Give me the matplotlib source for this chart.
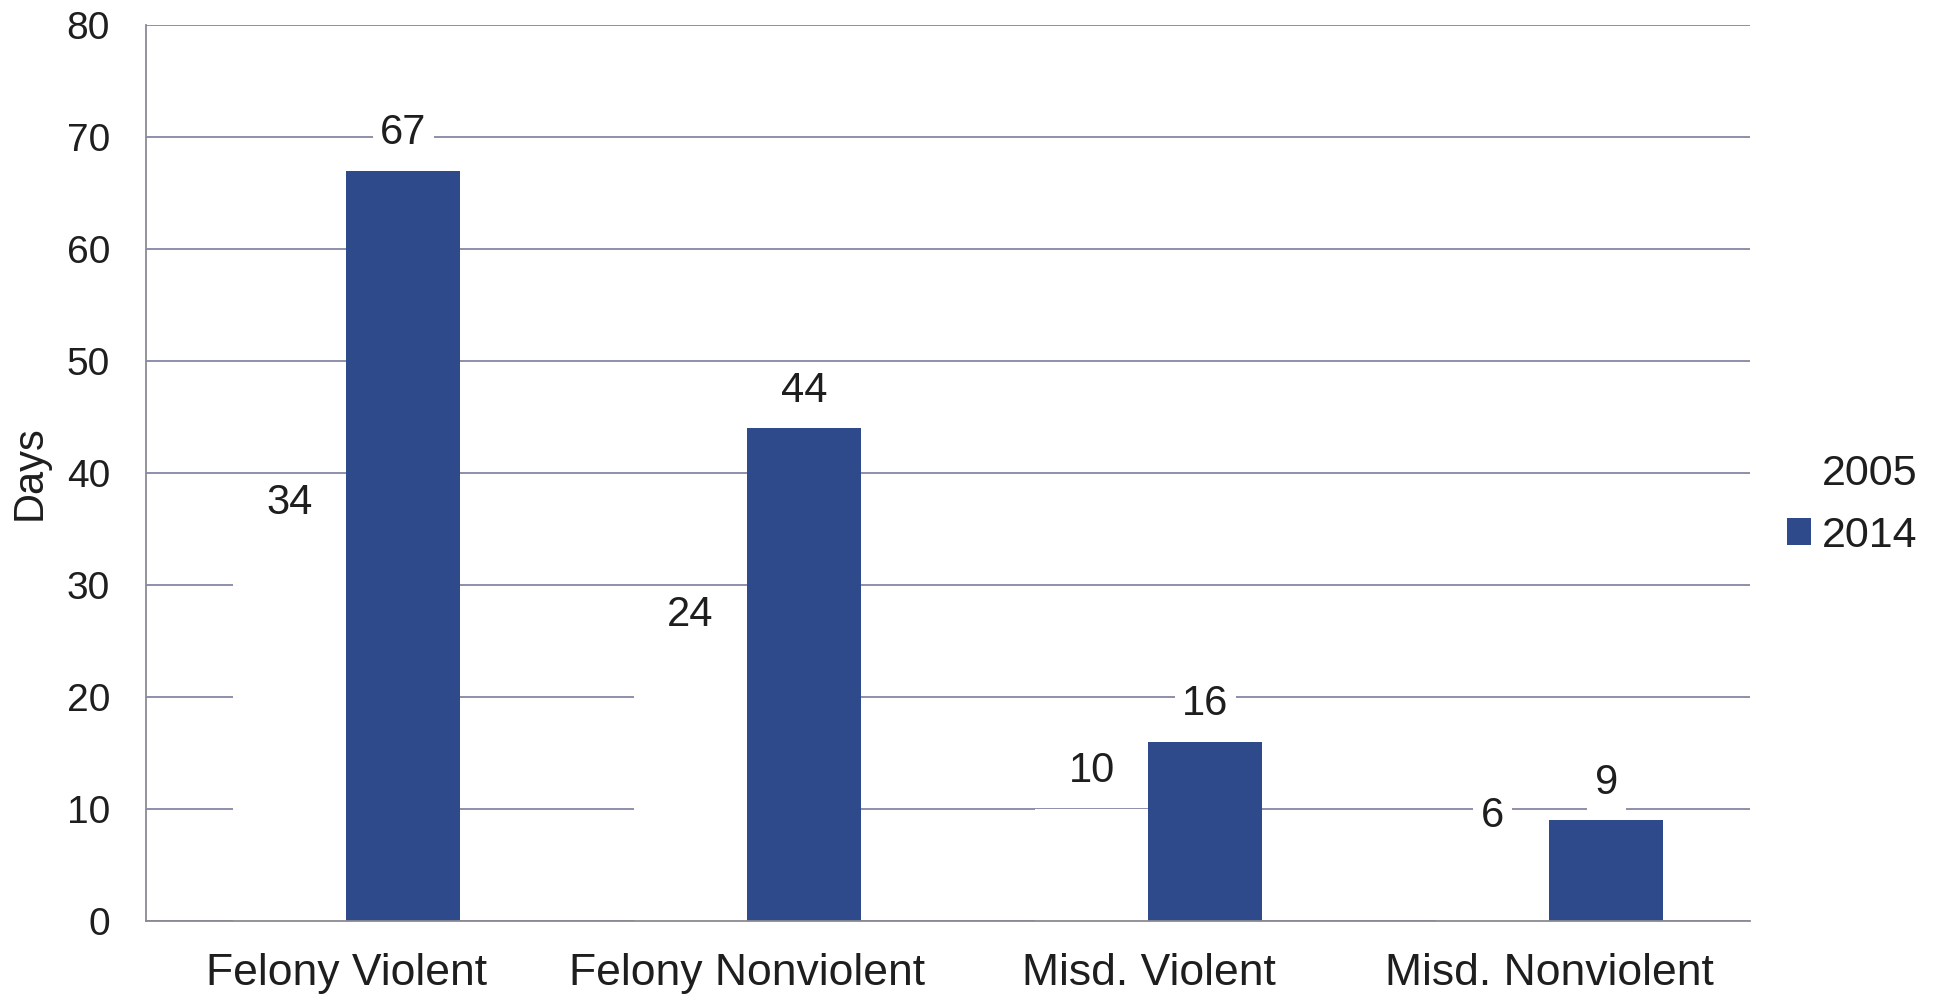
import matplotlib
matplotlib.use('Agg')
import matplotlib.pyplot as plt
from matplotlib.patches import Patch
import numpy as np

# data
categories = ['Felony Violent', 'Felony Nonviolent', 'Misd. Violent', 'Misd. Nonviolent']
days_2005 = [34, 24, 10, 6]
days_2014 = [67, 44, 16, 9]
yticks = [0, 10, 20, 30, 40, 50, 60, 70, 80]

plt.rcParams['font.family'] = ['Liberation Sans', 'DejaVu Sans']

BLUE = '#2f4a8a'
GRID = '#8486a6'
TXT = '#1e1e1e'

fig = plt.figure(figsize=(19.44, 10), dpi=100)
ax = fig.add_axes([0.0751, 0.079, 0.8251, 0.896])

x = np.arange(len(categories))
w = 0.284
b05 = ax.bar(x - w / 2, days_2005, w, color='white', zorder=2, label='2005')
b14 = ax.bar(x + w / 2, days_2014, w, color=BLUE, zorder=2, label='2014')

for bars, vals in [(b05, days_2005), (b14, days_2014)]:
    for r, v in zip(bars, vals):
        ax.annotate(str(v), (r.get_x() + r.get_width() / 2, v),
                    xytext=(0, 27), textcoords='offset points',
                    ha='center', va='center', fontsize=30, color=TXT, zorder=4,
                    bbox=dict(boxstyle='square,pad=0.18', fc='white', ec='none'))

ax.set_xlim(-0.5, 3.5)
ax.set_ylim(0, 80)
ax.set_yticks(yticks)
ax.yaxis.grid(True, color=GRID, linewidth=1.3, zorder=0)
ax.set_axisbelow(True)
ax.set_xticks(x)
ax.set_xticklabels(categories, fontsize=32, color=TXT)
ax.tick_params(axis='y', labelsize=28, labelcolor=TXT, length=0, pad=26)
ax.tick_params(axis='x', length=0, pad=23)

for s in ['top', 'right']:
    ax.spines[s].set_visible(False)
for s in ['left', 'bottom']:
    ax.spines[s].set_color('#8a8a95')
    ax.spines[s].set_linewidth(1.3)

ax.set_ylabel('Days', fontsize=30, color=TXT, labelpad=12)

handles = [Patch(facecolor='white', edgecolor='none', label='2005'),
           Patch(facecolor=BLUE, edgecolor='none', label='2014')]
fig.legend(handles=handles, loc='center left', bbox_to_anchor=(0.919, 0.495),
           frameon=False, fontsize=31, handlelength=0.56, handleheight=0.56,
           handletextpad=0.25, labelspacing=0.5, borderpad=0, borderaxespad=0,
           labelcolor=TXT)

fig.savefig('out.png', dpi=100, facecolor='white')
